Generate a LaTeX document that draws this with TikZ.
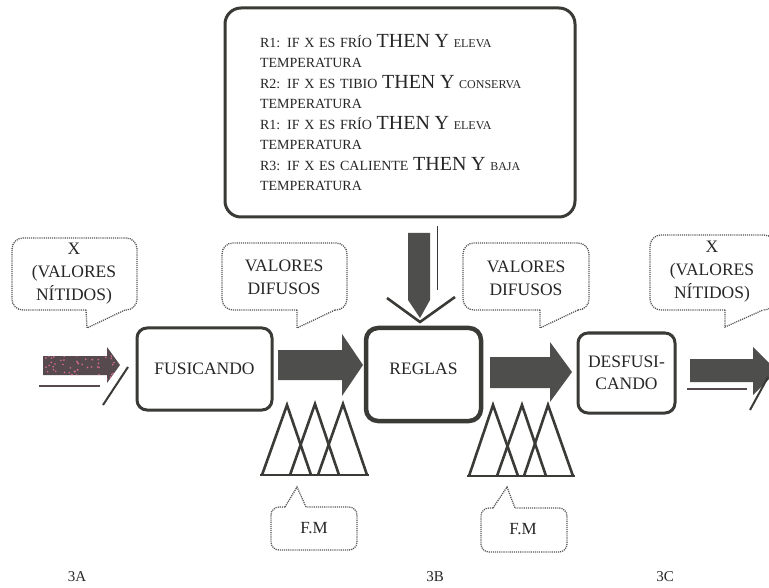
\documentclass[tikz,border=0pt]{standalone}
\usepackage{fontspec}
\setmainfont{Liberation Serif}
\usetikzlibrary{calc}

\definecolor{ink}{HTML}{3A3A36}
\definecolor{txt}{HTML}{262626}
\definecolor{arrowfill}{HTML}{4E4E4C}
\definecolor{dotline}{HTML}{555555}
\definecolor{speck}{HTML}{D86C92}
\definecolor{inred}{HTML}{574A4F}

% word sizes used inside the rule list
\newcommand\bigw[1]{{\fontsize{20}{20.5}\selectfont #1}}
\newcommand\smw[1]{{\fontsize{12}{20.5}\selectfont #1}}

% dotted speech bubble, tail pointing down: x1 y1 x2 y2 tail-left tail-right tip-x tip-y
\newcommand\speechdown[8]{%
  \draw[bubble, rounded corners=11pt] (#5,#4) -- (#1,#4) -- (#1,#2) -- (#3,#2) -- (#3,#4) -- (#6,#4);
  \draw[bubble] (#5,#4) -- (#7,#8) -- (#6,#4);}
% dotted speech bubble, tail pointing up
\newcommand\speechup[8]{%
  \draw[bubble, rounded corners=8pt] (#5,#2) -- (#1,#2) -- (#1,#4) -- (#3,#4) -- (#3,#2) -- (#6,#2);
  \draw[bubble] (#5,#2) -- (#7,#8) -- (#6,#2);}

\begin{document}
\begin{tikzpicture}[x=1pt,y=-1pt,
  procbox/.style={draw=ink, line width=3pt, rounded corners=10pt, text=txt,
    font=\fontsize{17.5}{21.5}\selectfont, align=center, inner sep=2pt},
  bubble/.style={draw=dotline, line width=1.3pt, dash pattern=on 1.1pt off 1pt},
  bubbletext/.style={text=txt, font=\fontsize{17.5}{23}\selectfont, align=center, inner sep=0pt},
  blockarrow/.style={fill=arrowfill, draw=none},
  mfun/.style={draw=ink, line width=2.6pt, line join=miter},
  tag/.style={text=txt, font=\fontsize{15}{17}\selectfont, inner sep=0pt}
]
\useasboundingbox (0,0) rectangle (769,588);
\clip (0,0) rectangle (769,588);
\fill[white] (0,0) rectangle (769,588);

% rule base
\node[draw=ink, line width=3pt, rounded corners=16pt, minimum width=350pt, minimum height=209pt,
      text width=280pt, align=left, text=txt, inner sep=0pt,
      font=\fontsize{14}{20.5}\selectfont] (rules) at (400,112.5) {%
R1: IF X ES FRÍO \bigw{THEN Y} \smw{ELEVA}\\
TEMPERATURA\\
R2: IF X ES TIBIO \bigw{THEN Y} \smw{CONSERVA}\\
TEMPERATURA\\
R1: IF X ES FRÍO \bigw{THEN Y} \smw{ELEVA}\\
TEMPERATURA\\
R3: IF X ES CALIENTE \bigw{THEN Y} \smw{BAJA}\\
TEMPERATURA};

% processing blocks
\node[procbox, minimum width=135pt, minimum height=82pt] (fus) at (204.5,369) {FUSICANDO};
\node[procbox, line width=4.5pt, rounded corners=12pt, minimum width=115pt, minimum height=93pt,
      text height=13pt, text depth=14pt] (reglas) at (423.5,374.5) {REGLAS};
\node[procbox, minimum width=97pt, minimum height=80pt] (desf) at (626.5,373) {DESFUSI-\\CANDO};

% speech bubbles
\speechdown{12}{238}{137}{310}{86}{125}{87}{328}
\node[bubbletext] (crispin) at (74,274) {X\\(VALORES\\NÍTIDOS)};
\speechdown{222}{243}{347}{310}{297}{335}{297}{328}
\node[bubbletext] (fuzzyA) at (284,277) {VALORES\\DIFUSOS};
\speechdown{463}{243}{589}{310}{540}{578}{540}{328}
\node[bubbletext] (fuzzyB) at (526,278) {VALORES\\DIFUSOS};
\speechdown{650}{235}{775}{310}{725}{763}{725}{327}
\node[bubbletext] (crispout) at (712,272) {X\\(VALORES\\NÍTIDOS)};
\speechup{271}{507}{357}{550}{285}{306}{297}{487}
\node[bubbletext, font=\fontsize{17}{20}\selectfont] (fmA) at (314,528) {F.M};
\speechup{481}{508}{567}{552}{493}{515}{507}{487}
\node[bubbletext, font=\fontsize{17}{20}\selectfont] (fmB) at (523,529) {F.M};

% incoming crisp input arrow
\fill[inred] (43,356) -- (107,356) -- (107,347) -- (120,365) -- (107,383) -- (107,375) -- (43,375) -- cycle;
\begin{scope}
  \clip (43,356) -- (107,356) -- (107,347) -- (120,365) -- (107,383) -- (107,375) -- (43,375) -- cycle;
  \pgfmathsetseed{7}
  \foreach \i in {1,...,90}{\fill[speck] ({43+77*rnd},{347+36*rnd}) circle (0.9pt);}
\end{scope}
\draw[inred, line width=2.5pt] (39,386) -- (100,386);
\draw[ink, line width=2pt] (128,367) -- (103,405);

% block arrows between the stages
\fill[blockarrow] (278,350) -- (342,350) -- (342,334) -- (363,365) -- (342,396) -- (342,380) -- (278,380) -- cycle;
\fill[blockarrow] (490,357) -- (550,357) -- (550,342) -- (572,372) -- (550,402) -- (550,388) -- (490,388) -- cycle;
\fill[blockarrow] (690,359) -- (753,359) -- (753,347) -- (777,371) -- (753,395) -- (753,382) -- (690,382) -- cycle;
\draw[inred, line width=2.5pt] (687,389) -- (747,389);
\draw[ink, line width=2pt] (768,377) -- (750,410);

% rule base feeding the inference block
\fill[blockarrow] (408,233) -- (430,233) -- (430,300) -- (420,318) -- (408,300) -- cycle;
\draw[ink, line width=1pt] (437,226) -- (437,290);
\draw[ink, line width=2.6pt, line join=miter] (387,298) -- (420,322) -- (455,297);

% membership functions
\draw[mfun] (262,475) -- (287,405) -- (311,475);
\draw[mfun] (290,475) -- (315,404) -- (339,475);
\draw[mfun] (318,475) -- (343,404) -- (367,475);
\draw[mfun] (260,475) -- (369,475);
\draw[mfun] (469,476) -- (493,405) -- (518,476);
\draw[mfun] (497,476) -- (522,405) -- (546,476);
\draw[mfun] (524,476) -- (548,405) -- (573,476);
\draw[mfun] (467,476) -- (575,476);

% stage tags
\node[tag] (tagA) at (77,577) {3A};
\node[tag] (tagB) at (435,577) {3B};
\node[tag] (tagC) at (665,577) {3C};
\end{tikzpicture}
\end{document}
